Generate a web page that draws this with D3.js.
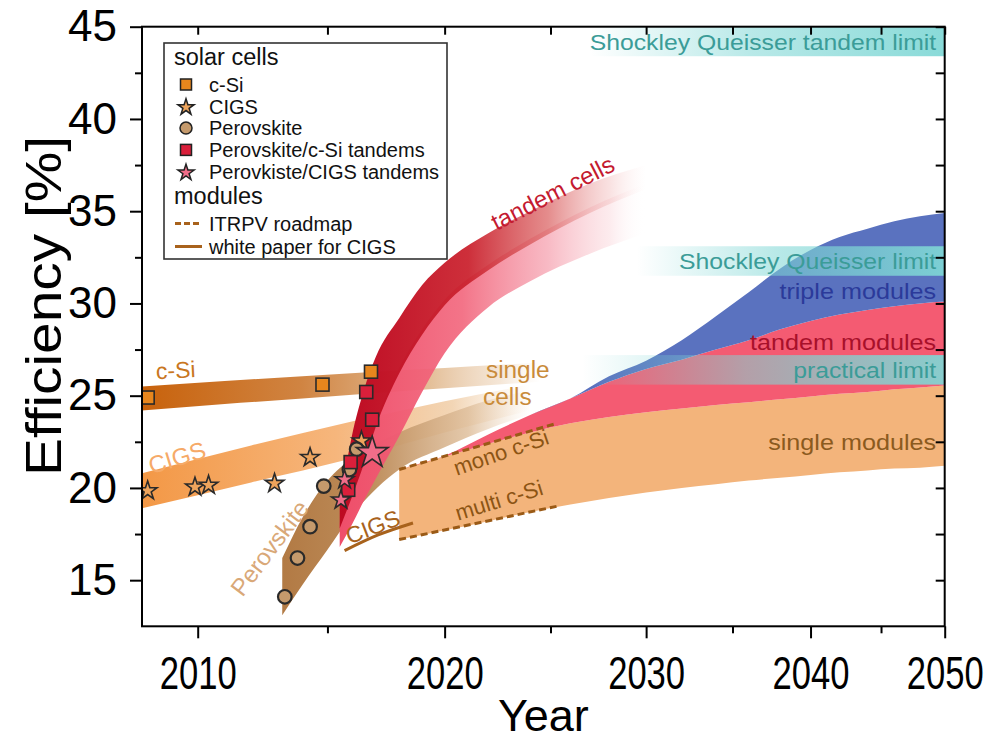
<!DOCTYPE html>
<html><head><meta charset="utf-8">
<script src="https://cdn.jsdelivr.net/npm/d3@7"></script>
<style>
body{margin:0;background:#fff}
svg{display:block}
text{font-family:"Liberation Sans",Arial,sans-serif}
</style>
</head><body>
<svg id="chart" width="994" height="740"></svg>
<script>
// ---------- record cells ----------
const cSiYears = [2008.2, 2014.8, 2016.8];
const cSiEff = [24.9, 25.6, 26.3];
const cigsYears = [2008.2, 2009.9, 2010.4, 2012.9, 2014.3, 2016.4];
const cigsEff = [19.9, 20.1, 20.2, 20.3, 21.7, 22.6];
const perovskiteYears = [2013.3, 2013.8, 2014.3, 2014.85, 2015.9, 2016.2];
const perovskiteEff = [14.1, 16.2, 17.9, 20.1, 21.0, 22.1];
const tandemSiYears = [2015.85, 2015.95, 2016.6, 2016.85];
const tandemSiEff = [19.9, 21.4, 25.2, 23.7];
const tandemCigsYears = [2015.55, 2015.7, 2016.85];
const tandemCigsEff = [19.4, 20.5, 22.0];

// ---------- single-junction cell trends ----------
const cSiBandYears = [2008, 2011, 2014, 2017, 2020, 2023, 2024.5];
const cSiBandLow = [24.2, 24.55, 24.85, 25.15, 25.4, 25.65, 25.75];
const cSiBandHigh = [25.5, 25.8, 26.05, 26.3, 26.5, 26.7, 26.8];
const cigsBandYears = [2008, 2012, 2016, 2020, 2024];
const cigsBandLow = [18.9, 20.3, 21.6, 23.0, 24.2];
const cigsBandHigh = [20.8, 22.3, 23.6, 24.7, 25.6];
const perovskiteBandYears = [2013.2, 2014, 2015, 2016, 2018, 2020, 2022, 2024];
const perovskiteBandLow = [13.1, 14.75, 16.65, 18.5, 21.0, 22.2, 23.2, 24.0];
const perovskiteBandHigh = [16.2, 18.4, 20.4, 21.6, 23.0, 23.95, 24.75, 25.3];

// ---------- tandem cell trends ----------
const tandemCellYears = [2015.5, 2016, 2016.5, 2017, 2018, 2019, 2020, 2022, 2024, 2027, 2030];
const siTandemLow = [17.8, 19.5, 21.3, 23.3, 26.2, 28.3, 29.9, 31.8, 33.2, 34.9, 36.2];
const siTandemHigh = [19.1, 22.8, 25.3, 27.1, 29.2, 31.0, 32.2, 33.8, 35.0, 36.5, 37.5];
const cigsTandemLow = [16.8, 18.0, 19.3, 20.5, 22.8, 25.2, 27.3, 29.8, 31.2, 32.7, 33.8];
const cigsTandemHigh = [18.1, 19.8, 21.6, 23.6, 26.5, 28.6, 30.2, 32.1, 33.5, 35.2, 36.5];

// ---------- module trends ----------
const moduleYears = [2018, 2020, 2022, 2024, 2026, 2028, 2030, 2032, 2034, 2036, 2038, 2040, 2042, 2044, 2046, 2048, 2050];
const singleModuleLow = [17.2, 17.7, 18.2, 18.7, 19.1, 19.45, 19.75, 20.0, 20.2, 20.4, 20.55, 20.7, 20.85, 20.95, 21.05, 21.1, 21.2];
const singleModuleHigh = [21.0, 21.7, 22.4, 23.0, 23.5, 23.85, 24.1, 24.3, 24.5, 24.65, 24.8, 24.95, 25.1, 25.2, 25.35, 25.45, 25.55];
const tandemModuleHigh = [21.0, 21.75, 22.9, 23.95, 24.85, 25.75, 26.45, 26.95, 27.5, 28.0, 28.6, 29.05, 29.4, 29.65, 29.85, 30.0, 30.1];
const tripleModuleHigh = [21.0, 21.75, 22.9, 23.95, 24.85, 26.05, 26.9, 28.0, 29.3, 30.6, 31.9, 32.9, 33.6, 34.05, 34.45, 34.72, 34.9];

// ITRPV roadmap and CIGS white paper
const monoYears = [2018, 2025.3];
const monoEff = [21.0, 23.5];
const multiYears = [2018, 2025.3];
const multiEff = [17.2, 19.0];
const cigsPaperYears = [2015.7, 2017.1, 2018.6];
const cigsPaperEff = [16.6, 17.45, 18.1];

// efficiency limits
const limitNames = ["Shockley Queisser tandem limit", "Shockley Queisser limit", "practical limit"];
const limitLow = [43.4, 31.5, 25.6];
const limitHigh = [45, 33.1, 27.2];
const limitStart = [2027.0, 2029.5, 2026.6];

// axis ticks
const xMajor = [2010, 2020, 2030, 2040, 2050];
const xMinor = [2015, 2025, 2035, 2045];
const yMajor = [15, 20, 25, 30, 35, 40, 45];
const yMinor = [17.5, 22.5, 27.5, 32.5, 37.5, 42.5];

// ---------- scales ----------
const svg = d3.select("#chart");
const pL = 142, pR = 944.7, pT = 26.7, pB = 626.3;
// the time axis is compressed towards later years
const warp = t => 1 - Math.pow(0.816, (t - 2010) / 10);
const warpLin = d3.scaleLinear().domain([warp(2008), warp(2050)]).range([pL, pR]);
const grid = d3.range(2008, 2050.0001, 0.25);
const x = d3.scaleLinear().domain(grid).range(grid.map(t => warpLin(warp(t))));
const y = d3.scaleLinear().domain([12.5, 45]).range([pB, pT]);

const defs = svg.append("defs");
function fadeGradient(id, y0, y1, stops) {
  const g = defs.append("linearGradient").attr("id", id)
    .attr("gradientUnits", "userSpaceOnUse")
    .attr("x1", x(y0)).attr("x2", x(y1)).attr("y1", 0).attr("y2", 0);
  stops.forEach(s => g.append("stop").attr("offset", s[0]).attr("stop-color", s[1]).attr("stop-opacity", s[2]));
  return `url(#${id})`;
}
defs.append("clipPath").attr("id", "plotClip").append("rect")
  .attr("x", pL).attr("y", pT).attr("width", pR - pL).attr("height", pB - pT);

const plot = svg.append("g").attr("clip-path", "url(#plotClip)");

function band(years, low, high, fill) {
  const rows = years.map((t, i) => ({t, lo: low[i], hi: high[i]}));
  plot.append("path").datum(rows)
    .attr("d", d3.area().x(d => x(d.t)).y0(d => y(d.lo)).y1(d => y(d.hi)).curve(d3.curveMonotoneX))
    .attr("fill", fill);
}

// module bands
band(moduleYears, singleModuleLow, singleModuleHigh, "#f3b47b");
band(moduleYears, singleModuleHigh, tandemModuleHigh, "#f45b72");
band(moduleYears, tandemModuleHigh, tripleModuleHigh, "#5a72bf");

// single-cell bands
band(cSiBandYears, cSiBandLow, cSiBandHigh, fadeGradient("gCSi", 2008, 2024.5,
  [[0, "#c8620c", 1], [0.4, "#d08442", 1], [0.72, "#e2bb92", 0.95], [0.9, "#eed6bc", 0.6], [1, "#f4e4d2", 0]]));
band(cigsBandYears, cigsBandLow, cigsBandHigh, fadeGradient("gCigs", 2008, 2024,
  [[0, "#f39846", 1], [0.5, "#f6b67c", 1], [0.8, "#f0cea8", 0.85], [1, "#f6e2cc", 0]]));
band(perovskiteBandYears, perovskiteBandLow, perovskiteBandHigh, fadeGradient("gPero", 2013.2, 2024,
  [[0, "#b27a44", 1], [0.35, "#bd8c5a", 1], [0.75, "#dfbf9c", 0.85], [1, "#f2dfca", 0]]));

// tandem-cell bands
band(tandemCellYears, cigsTandemLow, cigsTandemHigh, fadeGradient("gTanPink", 2015.5, 2030,
  [[0, "#ef4e6a", 1], [0.4, "#f2687e", 0.92], [0.68, "#f59cab", 0.7], [0.88, "#f9cdd3", 0.4], [1, "#ffffff", 0]]));
band(tandemCellYears, siTandemLow, siTandemHigh, fadeGradient("gTanRed", 2015.5, 2030,
  [[0, "#bd0a22", 1], [0.42, "#cb2430", 0.95], [0.68, "#dd6c6c", 0.78], [0.88, "#f2bcbc", 0.45], [1, "#fde6e6", 0]]));

// limits
limitNames.forEach((name, i) => {
  const fill = fadeGradient("gLim" + i, limitStart[i], 2050,
    [[0, "#7fd7d5", 0], [0.45, "#7fd7d5", 0.55], [1, "#7fd7d5", 0.92]]);
  plot.append("rect")
    .attr("x", x(limitStart[i])).attr("width", x(2050) - x(limitStart[i]))
    .attr("y", y(limitHigh[i])).attr("height", y(limitLow[i]) - y(limitHigh[i]))
    .attr("fill", fill);
});

// roadmap lines
const line = d3.line().x(d => x(d[0])).y(d => y(d[1]));
plot.append("path").datum(monoYears.map((t, i) => [t, monoEff[i]]))
  .attr("d", line).attr("fill", "none").attr("stroke", "#9a5a16").attr("stroke-width", 3).attr("stroke-dasharray", "7,4");
plot.append("path").datum(multiYears.map((t, i) => [t, multiEff[i]]))
  .attr("d", line).attr("fill", "none").attr("stroke", "#9a5a16").attr("stroke-width", 3).attr("stroke-dasharray", "7,4");
plot.append("path").datum(cigsPaperYears.map((t, i) => [t, cigsPaperEff[i]]))
  .attr("d", line.curve(d3.curveMonotoneX)).attr("fill", "none").attr("stroke", "#a8621c").attr("stroke-width", 3);

// ---------- markers ----------
const starPath = r => d3.symbol(d3.symbolStar, r * r / 0.8908130915292852)();
function markers(years, effs, shape, fill, sizeFn) {
  years.forEach((t, i) => {
    const cx = x(t), cy = y(effs[i]);
    const s = sizeFn ? sizeFn(i) : 1;
    let el;
    if (shape === "square") {
      el = plot.append("rect").attr("x", cx - 6.5 * s).attr("y", cy - 6.5 * s).attr("width", 13 * s).attr("height", 13 * s);
    } else if (shape === "circle") {
      el = plot.append("circle").attr("cx", cx).attr("cy", cy).attr("r", 6.8 * s);
    } else {
      el = plot.append("path").attr("d", starPath(9.8 * s)).attr("transform", `translate(${cx},${cy + 1 * s})`);
    }
    el.attr("fill", fill).attr("stroke", "#2a2a2a").attr("stroke-width", shape === "circle" ? 2.2 : 1.6)
      .attr("stroke-linejoin", "miter");
  });
}
markers(cigsYears, cigsEff, "star", "#eea45c");
markers(cSiYears, cSiEff, "square", "#e7861d");
markers(perovskiteYears, perovskiteEff, "circle", "#c59a6c");
markers(tandemSiYears, tandemSiEff, "square", "#da1f3b");
markers(tandemCigsYears, tandemCigsEff, "star", "#f06d89", i => i === tandemCigsYears.length - 1 ? 1.7 : 1);

// ---------- annotations ----------
function label(txt, t, v, color, size, angle, anchor, stretch) {
  plot.append("text").text(txt)
    .attr("transform", `translate(${x(t)},${y(v)}) rotate(${angle || 0}) scale(${stretch || 1},1)`)
    .attr("text-anchor", anchor || "middle").attr("dy", "0.36em")
    .attr("font-size", size).attr("fill", color);
}
label("c-Si", 2009.2, 26.4, "#c9771f", 23, -3);
label("CIGS", 2009.25, 21.65, "#f6aa68", 24, -17);
label("Perovskite", 2012.7, 16.75, "#d9a878", 24, -53);
label("single", 2023.4, 26.43, "#c98b3a", 23, 0, "middle", 1.06);
label("cells", 2022.9, 24.92, "#c98b3a", 23, 0, "middle", 1.06);
label("tandem cells", 2025.1, 36.0, "#c41a30", 24, -27);
label("mono c-Si", 2022.6, 21.94, "#8c5414", 22, -19);
label("multi c-Si", 2022.5, 19.35, "#8c5414", 22, -17);
label("CIGS", 2016.87, 17.9, "#a8621c", 23, -21);
label("triple modules", 2049.3, 30.7, "#2b3a9a", 22.5, 0, "end", 1.12);
label("tandem modules", 2049.3, 27.9, "#a8102a", 22.5, 0, "end", 1.12);
label("single modules", 2049.3, 22.5, "#8b5a1e", 22.5, 0, "end", 1.12);
limitNames.forEach((name, i) => label(name, 2049.3, (limitLow[i] + limitHigh[i]) / 2, "#3b9c98", 22.5, 0, "end", 1.1));

// ---------- axes ----------
function styleAxis(g) {
  g.select(".domain").remove();
  g.selectAll(".tick line").attr("stroke", "#000").attr("stroke-width", 2);
  g.selectAll("text").attr("fill", "#000").attr("font-family", "Liberation Sans, Arial, sans-serif");
}
svg.append("g").attr("transform", `translate(0,${pB})`)
  .call(d3.axisBottom(x).tickValues(xMajor).tickSize(12).tickPadding(13).tickFormat(d3.format("d"))).call(styleAxis)
  .call(g => g.selectAll("text").attr("font-size", 40).attr("textLength", 77).attr("lengthAdjust", "spacingAndGlyphs")
    .attr("transform", "scale(1,1.17)"));
svg.append("g").attr("transform", `translate(0,${pB})`)
  .call(d3.axisBottom(x).tickValues(xMinor).tickSize(7).tickFormat("")).call(styleAxis);
svg.append("g").attr("transform", `translate(0,${pT})`)
  .call(d3.axisTop(x).tickValues(xMajor.concat(xMinor)).tickSize(-8).tickFormat("")).call(styleAxis);
svg.append("g").attr("transform", `translate(${pL},0)`)
  .call(d3.axisLeft(y).tickValues(yMajor).tickSize(12).tickPadding(13)).call(styleAxis)
  .call(g => g.selectAll("text").attr("font-size", 44));
svg.append("g").attr("transform", `translate(${pL},0)`)
  .call(d3.axisLeft(y).tickValues(yMinor).tickSize(7).tickFormat("")).call(styleAxis);
svg.append("g").attr("transform", `translate(${pR},0)`)
  .call(d3.axisRight(y).tickValues(yMajor.concat(yMinor)).tickSize(-9).tickFormat("")).call(styleAxis);
svg.append("rect").attr("x", pL).attr("y", pT).attr("width", pR - pL).attr("height", pB - pT)
  .attr("fill", "none").attr("stroke", "#000").attr("stroke-width", 2);

svg.append("text").text("Year").attr("x", (pL + pR) / 2).attr("y", 731)
  .attr("text-anchor", "middle").attr("font-size", 45).attr("fill", "#000");
svg.append("text").text("Efficiency [%]").attr("transform", "translate(61,306) rotate(-90)")
  .attr("text-anchor", "middle").attr("font-size", 50).attr("fill", "#000")
  .attr("textLength", 340).attr("lengthAdjust", "spacingAndGlyphs");

// ---------- legend ----------
const lg = svg.append("g");
lg.append("rect").attr("x", 164).attr("y", 43).attr("width", 283).attr("height", 216)
  .attr("fill", "#fff").attr("stroke", "#333").attr("stroke-width", 1.6);
lg.append("text").text("solar cells").attr("x", 174).attr("y", 65).attr("font-size", 23.5).attr("fill", "#111");
lg.append("text").text("modules").attr("x", 174).attr("y", 204).attr("font-size", 23.5).attr("fill", "#111");
const legendCells = [
  {name: "c-Si", shape: "square", fill: "#e7861d"},
  {name: "CIGS", shape: "star", fill: "#eea45c"},
  {name: "Perovskite", shape: "circle", fill: "#c59a6c"},
  {name: "Perovskite/c-Si tandems", shape: "square", fill: "#da1f3b"},
  {name: "Perovkiste/CIGS tandems", shape: "star", fill: "#f06d89"}
];
legendCells.forEach((d, i) => {
  const cy = 84.5 + i * 21.8, cx = 186;
  let el;
  if (d.shape === "square") el = lg.append("rect").attr("x", cx - 5.5).attr("y", cy - 5.5).attr("width", 11).attr("height", 11);
  else if (d.shape === "circle") el = lg.append("circle").attr("cx", cx).attr("cy", cy).attr("r", 6);
  else el = lg.append("path").attr("d", starPath(8.5)).attr("transform", `translate(${cx},${cy + 1})`);
  el.attr("fill", d.fill).attr("stroke", "#222").attr("stroke-width", 1.5);
  lg.append("text").text(d.name).attr("x", 209).attr("y", cy).attr("dy", "0.36em").attr("font-size", 20).attr("fill", "#111");
});
const legendLines = [{name: "ITRPV roadmap", dash: "6,3"}, {name: "white paper for CIGS", dash: null}];
legendLines.forEach((d, i) => {
  const cy = 223.5 + i * 23;
  lg.append("line").attr("x1", 175).attr("x2", 202).attr("y1", cy).attr("y2", cy)
    .attr("stroke", "#a8621c").attr("stroke-width", 3).attr("stroke-dasharray", d.dash);
  lg.append("text").text(d.name).attr("x", 209).attr("y", cy).attr("dy", "0.36em").attr("font-size", 20).attr("fill", "#111");
});
</script>
</body></html>
